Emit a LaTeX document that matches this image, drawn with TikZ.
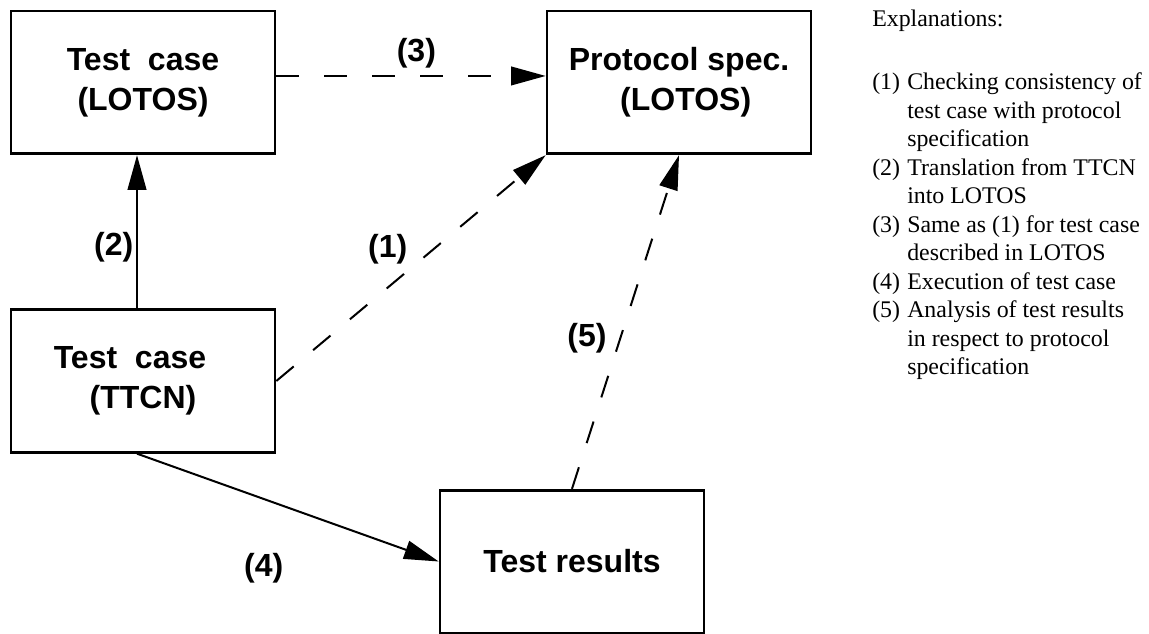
\documentclass[tikz,border=0pt]{standalone}
\usepackage{fontspec}
\setmainfont{Liberation Serif}
\newfontfamily\boxfont{Liberation Sans}
\usetikzlibrary{arrows.meta,positioning}
\begin{document}
\begin{tikzpicture}[x=0.75pt, y=-0.75pt, >={Triangle[length=26pt,width=14pt]},
	box/.style={draw, line width=2pt, minimum width=198pt, minimum height=107pt, inner sep=0pt, align=center, font=\boxfont\bfseries\fontsize{24}{30}\selectfont},
	lbl/.style={inner sep=2pt, font=\boxfont\bfseries\fontsize{24}{30}\selectfont},
	conn/.style={->, line width=1.5pt},
	dsh/.style={conn, dash pattern=on 17pt off 19pt}]
	\useasboundingbox (0,0) rectangle (1149,634);
	% boxes
	\node[box] (tclotos) at (143,82.5) {Test~~case\\(LOTOS)};
	\node[box] (spec) at (679,82.5) {Protocol spec.\\\hspace*{10pt}(LOTOS)};
	\node[box] (tcttcn) at (143,381) {Test~~case\hspace*{19.5pt}\\(TTCN)};
	\node[box] (res) at (572,561.5) {Test results};
	% connectors
	\draw[conn] ([xshift=-4.5pt]tcttcn.north) -- node[lbl, left, pos=0.4] (l2) {(2)} ([xshift=-4.5pt]tclotos.south);
	\draw[dsh] ([yshift=4.9pt]tclotos.east) -- node[lbl, above=3pt, pos=0.52] (l3) {(3)} ([yshift=4.9pt]spec.west);
	\draw[dsh] (tcttcn.east) -- node[lbl, above left, pos=0.5] (l1) {(1)} (spec.south west);
	\draw[conn] ([xshift=-4.5pt]tcttcn.south) -- node[lbl, below=38pt, pos=0.42] (l4) {(4)} (res.west);
	\draw[dsh] (res.north) -- node[lbl, left=7.5pt, pos=0.45] (l5) {(5)} (spec.south);
	% explanations
	\node[anchor=north west, inner sep=0pt, align=left, font=\fontsize{17.9}{21.4}\selectfont] (expl) at (872,9.6) {Explanations:\\[25.9pt]
		\makebox[26.25pt][l]{(1)}Checking consistency of\\
		\hspace*{26.25pt}test case with protocol\\
		\hspace*{26.25pt}specification\\
		\makebox[26.25pt][l]{(2)}Translation from TTCN\\
		\hspace*{26.25pt}into LOTOS\\
		\makebox[26.25pt][l]{(3)}Same as (1) for test case\\
		\hspace*{26.25pt}described in LOTOS\\
		\makebox[26.25pt][l]{(4)}Execution of test case\\
		\makebox[26.25pt][l]{(5)}Analysis of test results\\
		\hspace*{26.25pt}in respect to protocol\\
		\hspace*{26.25pt}specification};
\end{tikzpicture}
\end{document}
